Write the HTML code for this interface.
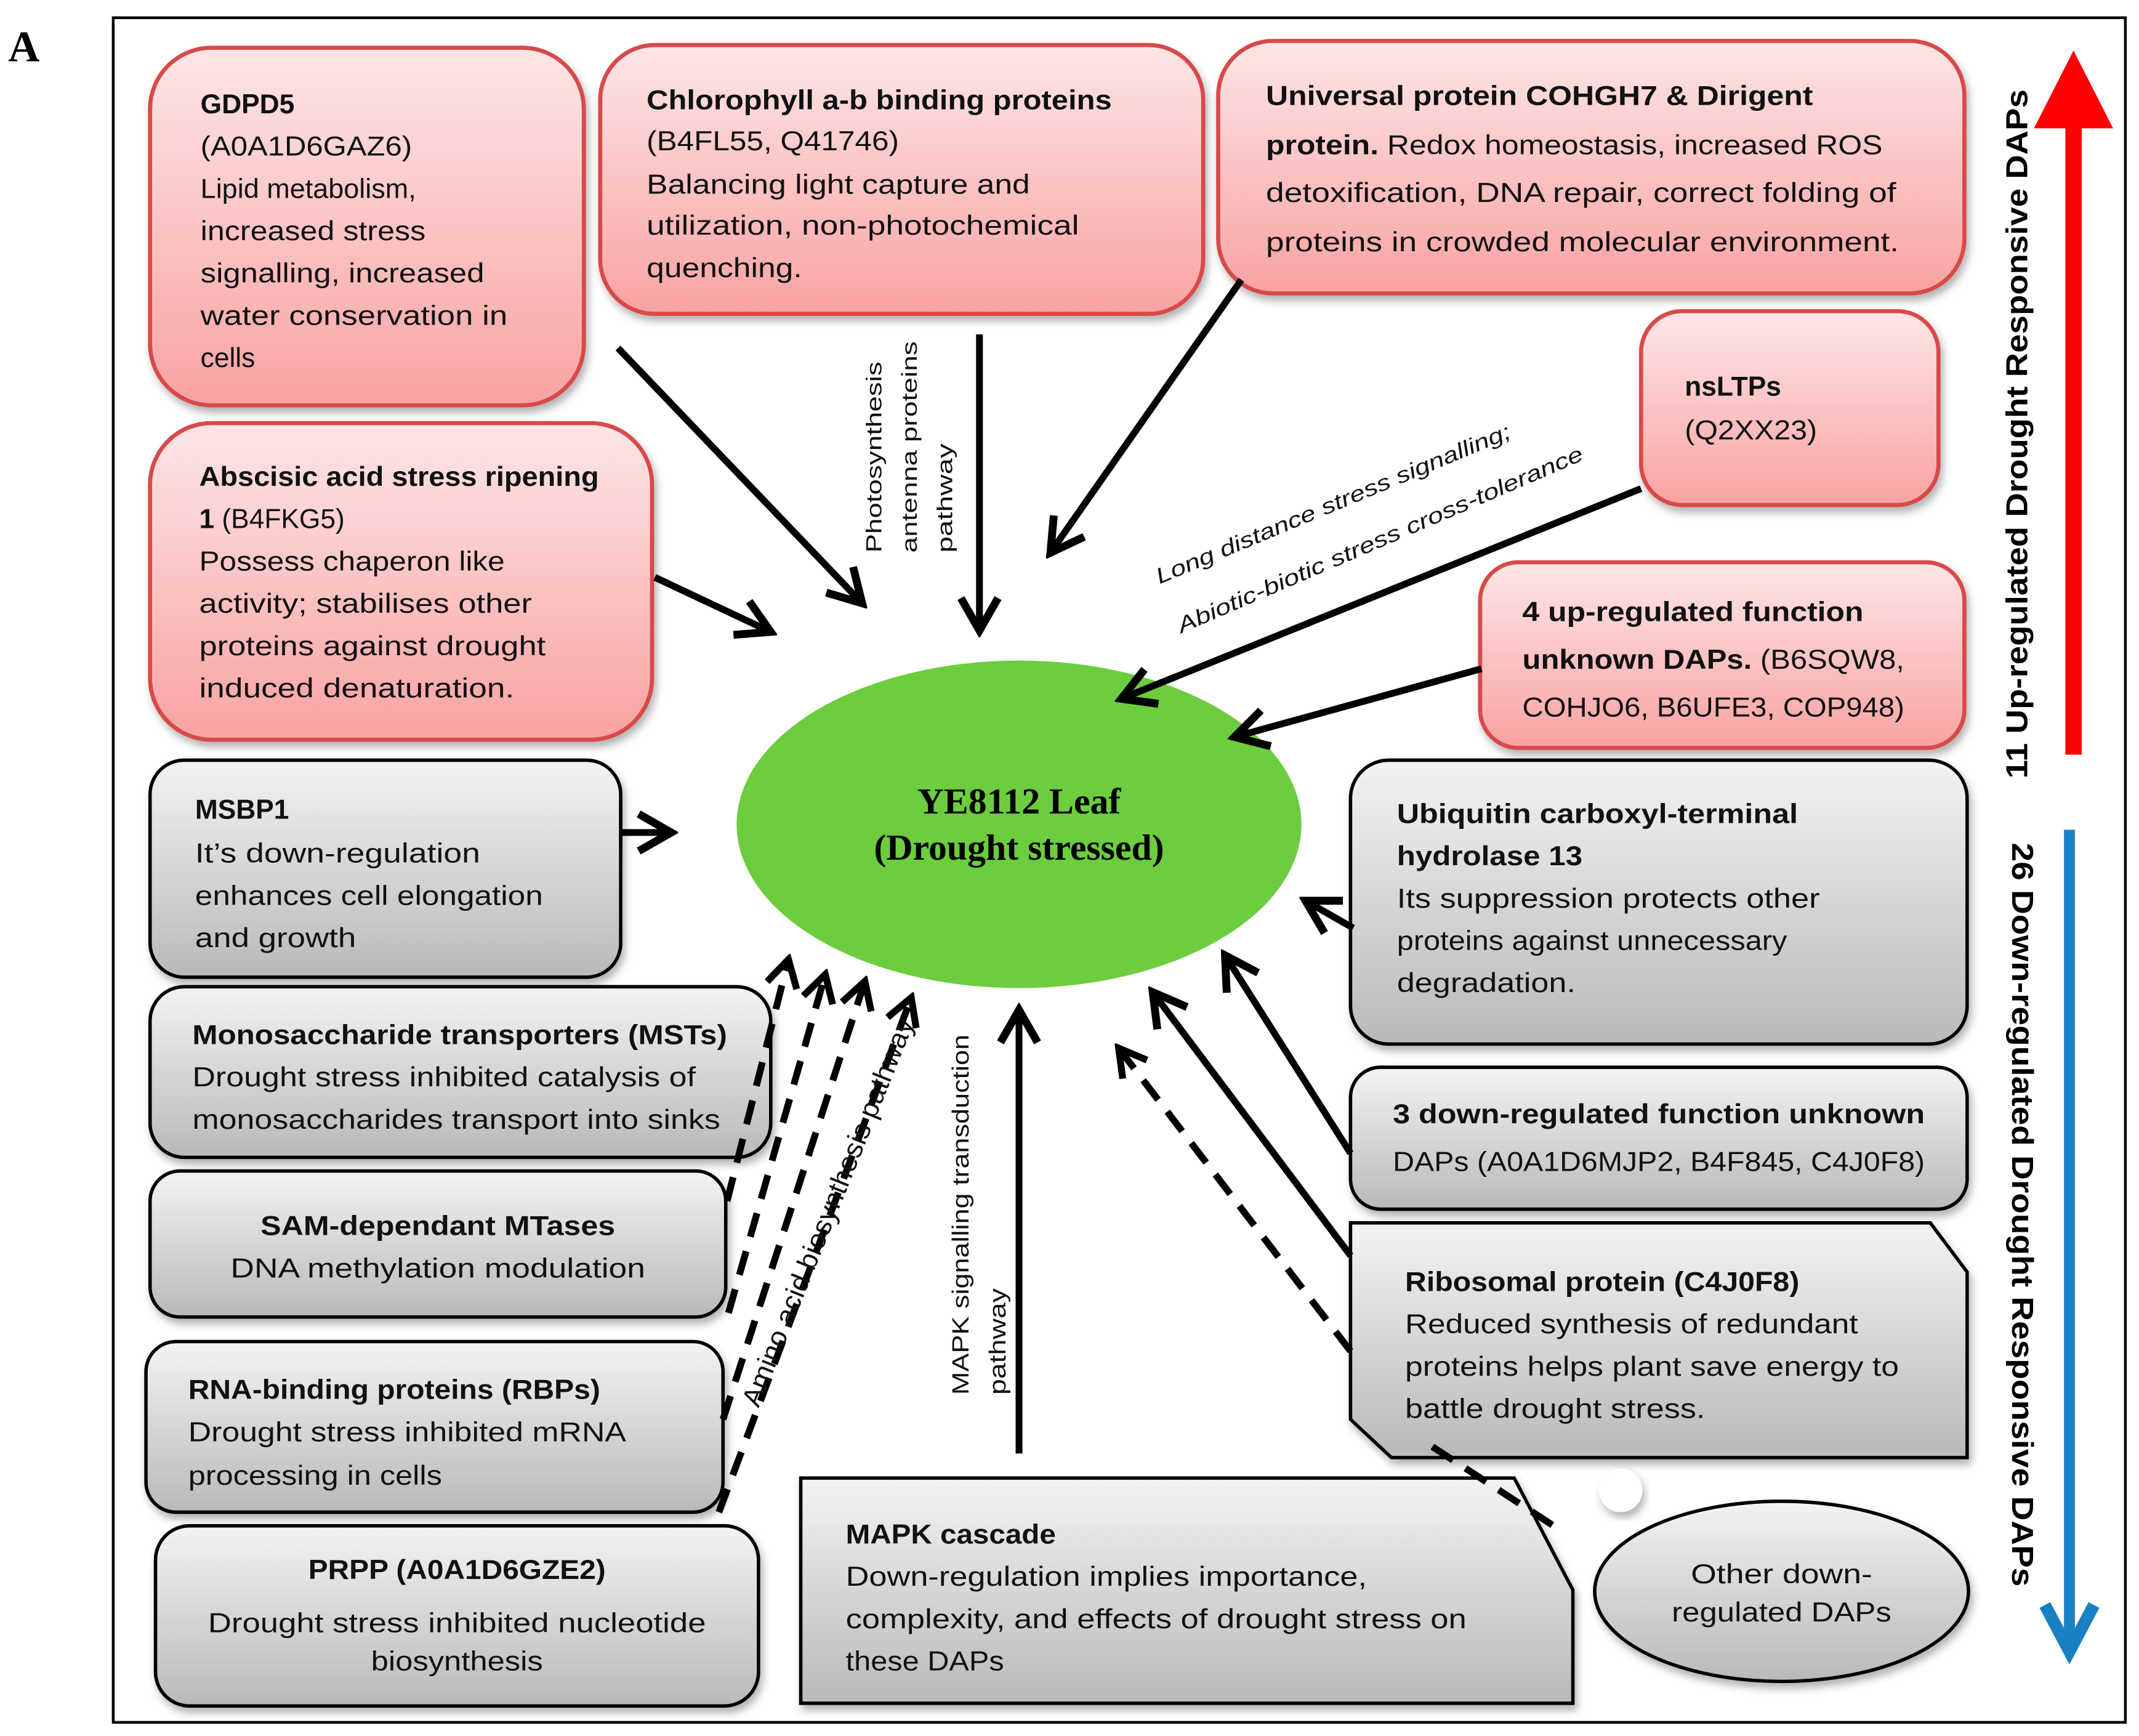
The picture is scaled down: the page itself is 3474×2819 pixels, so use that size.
<!DOCTYPE html>
<html><head><meta charset="utf-8"><style>
html,body{margin:0;padding:0;background:#fff;}
svg{display:block;}
text{font-family:"Liberation Sans",sans-serif;}
.t{font-size:20px;fill:#111;}
.b{font-weight:bold;}
.s{font-size:16px;fill:#111;}
</style></head><body>
<svg width="3474" height="2819" viewBox="0 0 1568 1272" preserveAspectRatio="none" xmlns="http://www.w3.org/2000/svg">
<defs>
<linearGradient id="pk" x1="0" y1="0" x2="0" y2="1"><stop offset="0" stop-color="#fde6e6"/><stop offset="1" stop-color="#f9a2a2"/></linearGradient>
<linearGradient id="gr" x1="0" y1="0" x2="0" y2="1"><stop offset="0" stop-color="#f3f3f3"/><stop offset="1" stop-color="#b9b9b9"/></linearGradient>
<filter id="sh" x="-10%" y="-10%" width="125%" height="130%"><feDropShadow dx="2" dy="4" stdDeviation="3" flood-color="#000" flood-opacity="0.3"/></filter>
<marker id="h" viewBox="0 0 20 20" refX="17" refY="10" markerWidth="34" markerHeight="34" markerUnits="userSpaceOnUse" orient="auto"><path d="M3,2 L17,10 L3,18" fill="none" stroke="#000" stroke-width="3.4" stroke-linejoin="miter"/></marker>
<marker id="hd" viewBox="0 0 20 20" refX="17" refY="10" markerWidth="28" markerHeight="28" markerUnits="userSpaceOnUse" orient="auto"><path d="M3,2 L17,10 L3,18" fill="none" stroke="#000" stroke-width="3.6"/></marker>
</defs>

<text x="6" y="45" style="font-family:'Liberation Serif',serif;font-size:32px;font-weight:bold">A</text>
<rect x="83" y="13" width="1475" height="1249" fill="none" stroke="#000" stroke-width="2"/>

<g stroke="#d94a4a" stroke-width="3" fill="url(#pk)" filter="url(#sh)">
<rect x="110" y="35" width="318" height="262" rx="45"/>
<rect x="440" y="33" width="442" height="197" rx="40"/>
<rect x="893" y="30" width="547" height="185" rx="40"/>
<rect x="1203" y="228" width="218" height="142" rx="30"/>
<rect x="110" y="310" width="368" height="232" rx="45"/>
<rect x="1085" y="412" width="355" height="136" rx="28"/>
</g>
<g stroke="#000" stroke-width="2.5" fill="url(#gr)" filter="url(#sh)">
<rect x="110" y="557" width="345" height="159" rx="25"/>
<rect x="110" y="723" width="455" height="125" rx="25"/>
<rect x="110" y="858" width="422" height="107" rx="22"/>
<rect x="107" y="983" width="423" height="125" rx="22"/>
<rect x="114" y="1118" width="442" height="132" rx="25"/>
<rect x="990" y="557" width="452" height="208" rx="28"/>
<rect x="990" y="782" width="452" height="104" rx="22"/>
<polygon points="990,896 1415,896 1442,932 1442,1068 1020,1068 990,1040"/>
<polygon points="587,1083 1110,1083 1153,1165 1153,1248 587,1248"/>
<ellipse cx="1306" cy="1166" rx="137" ry="66"/>
</g>
<circle cx="1188" cy="1092" r="16" fill="#fff" filter="url(#sh)"/>

<ellipse cx="747" cy="604" rx="207" ry="120" fill="#6ccd3e"/>
<text x="747" y="596" text-anchor="middle" style="font-family:'Liberation Serif',serif;font-size:27px;font-weight:bold">YE8112 Leaf</text>
<text x="747" y="630" text-anchor="middle" style="font-family:'Liberation Serif',serif;font-size:27px;font-weight:bold">(Drought stressed)</text>

<g stroke="#000" stroke-width="5" fill="none" marker-end="url(#h)">
<line x1="453" y1="255" x2="632" y2="442"/>
<line x1="718" y1="245" x2="718" y2="462"/>
<line x1="910" y1="205" x2="770" y2="405"/>
<line x1="480" y1="423" x2="565" y2="463"/>
<line x1="1203" y1="358" x2="822" y2="512"/>
<line x1="1086" y1="490" x2="905" y2="540"/>
<line x1="455" y1="610" x2="492" y2="610"/>
<line x1="992" y1="680" x2="957" y2="660"/>
<line x1="990" y1="845" x2="898" y2="700"/>
<line x1="990" y1="920" x2="845" y2="727"/>
<line x1="747" y1="1065" x2="747" y2="740"/>
</g>
<g stroke="#000" stroke-width="5" fill="none" stroke-dasharray="18 11">
<line x1="533" y1="880" x2="578" y2="703" marker-end="url(#hd)"/>
<line x1="534" y1="962" x2="605" y2="714" marker-end="url(#hd)"/>
<line x1="530" y1="1040" x2="634" y2="719" marker-end="url(#hd)"/>
<line x1="527" y1="1108" x2="668" y2="731" marker-end="url(#hd)"/>
<line x1="990" y1="990" x2="820" y2="768" marker-end="url(#hd)"/>
<line x1="1050" y1="1060" x2="1145" y2="1122"/>
</g>

<line x1="1520" y1="553" x2="1520" y2="90" stroke="#ff0000" stroke-width="12"/>
<polygon points="1491,94 1520,37 1549,94" fill="#ff0000"/>
<line x1="1517" y1="608" x2="1517" y2="1205" stroke="#1a80c4" stroke-width="8"/>
<polyline points="1499,1176 1517,1210 1535,1176" fill="none" stroke="#1a80c4" stroke-width="9"/>
<text transform="translate(1486,318) rotate(-90)" text-anchor="middle" class="b" style="font-size:22px" textLength="505" lengthAdjust="spacingAndGlyphs">11 Up-regulated Drought Responsive DAPs</text>
<text transform="translate(1475,890) rotate(90)" text-anchor="middle" class="b" style="font-size:22px" textLength="545" lengthAdjust="spacingAndGlyphs">26 Down-regulated Drought Responsive DAPs</text>

<text class="s" transform="translate(646,405) rotate(-90)" textLength="140" lengthAdjust="spacingAndGlyphs">Photosynthesis</text>
<text class="s" transform="translate(672,405) rotate(-90)" textLength="155" lengthAdjust="spacingAndGlyphs">antenna proteins</text>
<text class="s" transform="translate(698,405) rotate(-90)" textLength="80" lengthAdjust="spacingAndGlyphs">pathway</text>
<text class="s" style="font-style:italic" transform="translate(850,428) rotate(-22.6)" textLength="280" lengthAdjust="spacingAndGlyphs">Long distance stress signalling;</text>
<text class="s" style="font-style:italic" transform="translate(866,464) rotate(-23.3)" textLength="322" lengthAdjust="spacingAndGlyphs">Abiotic-biotic stress cross-tolerance</text>
<text class="s" style="font-size:20px" transform="translate(556,1032) rotate(-68)" textLength="305" lengthAdjust="spacingAndGlyphs">Amino acid biosynthesis pathway</text>
<text class="s" style="font-size:17px" transform="translate(710,1022) rotate(-90)" textLength="264" lengthAdjust="spacingAndGlyphs">MAPK signalling transduction</text>
<text class="s" style="font-size:17px" transform="translate(737,1022) rotate(-90)" textLength="78" lengthAdjust="spacingAndGlyphs">pathway</text>

<g class="t">
<text x="147" y="83" class="b">GDPD5</text>
<text x="147" y="114" textLength="155" lengthAdjust="spacingAndGlyphs">(A0A1D6GAZ6)</text>
<text x="147" y="145" textLength="158" lengthAdjust="spacingAndGlyphs">Lipid metabolism,</text>
<text x="147" y="176" textLength="165" lengthAdjust="spacingAndGlyphs">increased stress</text>
<text x="147" y="207" textLength="208" lengthAdjust="spacingAndGlyphs">signalling, increased</text>
<text x="147" y="238" textLength="225" lengthAdjust="spacingAndGlyphs">water conservation in</text>
<text x="147" y="269">cells</text>

<text x="474" y="80" class="b" textLength="341" lengthAdjust="spacingAndGlyphs">Chlorophyll a-b binding proteins</text>
<text x="474" y="110" textLength="185" lengthAdjust="spacingAndGlyphs">(B4FL55, Q41746)</text>
<text x="474" y="142" textLength="281" lengthAdjust="spacingAndGlyphs">Balancing light capture and</text>
<text x="474" y="172" textLength="317" lengthAdjust="spacingAndGlyphs">utilization, non-photochemical</text>
<text x="474" y="203" textLength="114" lengthAdjust="spacingAndGlyphs">quenching.</text>

<text x="928" y="77" class="b" textLength="401" lengthAdjust="spacingAndGlyphs">Universal protein COHGH7 &amp;  Dirigent</text>
<text x="928" y="113" textLength="452" lengthAdjust="spacingAndGlyphs"><tspan class="b">protein.</tspan> Redox homeostasis, increased ROS</text>
<text x="928" y="148" textLength="462" lengthAdjust="spacingAndGlyphs">detoxification, DNA repair, correct folding of</text>
<text x="928" y="184" textLength="464" lengthAdjust="spacingAndGlyphs">proteins in crowded molecular environment.</text>

<text x="1235" y="290" class="b">nsLTPs</text>
<text x="1235" y="322" textLength="97" lengthAdjust="spacingAndGlyphs">(Q2XX23)</text>

<text x="146" y="356" class="b" textLength="293" lengthAdjust="spacingAndGlyphs">Abscisic acid stress ripening</text>
<text x="146" y="387"><tspan class="b">1</tspan> (B4FKG5)</text>
<text x="146" y="418" textLength="224" lengthAdjust="spacingAndGlyphs">Possess chaperon like</text>
<text x="146" y="449" textLength="244" lengthAdjust="spacingAndGlyphs">activity; stabilises other</text>
<text x="146" y="480" textLength="254" lengthAdjust="spacingAndGlyphs">proteins against drought</text>
<text x="146" y="511" textLength="231" lengthAdjust="spacingAndGlyphs">induced denaturation.</text>

<text x="1116" y="455" class="b" textLength="250" lengthAdjust="spacingAndGlyphs">4 up-regulated function</text>
<text x="1116" y="490" textLength="280" lengthAdjust="spacingAndGlyphs"><tspan class="b">unknown DAPs.</tspan> (B6SQW8,</text>
<text x="1116" y="525" textLength="280" lengthAdjust="spacingAndGlyphs">COHJO6, B6UFE3, COP948)</text>
</g>

<g class="t">
<text x="143" y="600" class="b">MSBP1</text>
<text x="143" y="632" textLength="209" lengthAdjust="spacingAndGlyphs">It’s down-regulation</text>
<text x="143" y="663" textLength="255" lengthAdjust="spacingAndGlyphs">enhances cell elongation</text>
<text x="143" y="694" textLength="118" lengthAdjust="spacingAndGlyphs">and growth</text>

<text x="141" y="765" class="b" textLength="392" lengthAdjust="spacingAndGlyphs">Monosaccharide transporters (MSTs)</text>
<text x="141" y="796" textLength="369" lengthAdjust="spacingAndGlyphs">Drought stress inhibited catalysis of</text>
<text x="141" y="827" textLength="387" lengthAdjust="spacingAndGlyphs">monosaccharides transport into sinks</text>

<text x="321" y="905" class="b" text-anchor="middle" textLength="260" lengthAdjust="spacingAndGlyphs">SAM-dependant MTases</text>
<text x="321" y="936" text-anchor="middle" textLength="304" lengthAdjust="spacingAndGlyphs">DNA methylation modulation</text>

<text x="138" y="1025" class="b" textLength="302" lengthAdjust="spacingAndGlyphs">RNA-binding proteins (RBPs)</text>
<text x="138" y="1056" textLength="321" lengthAdjust="spacingAndGlyphs">Drought stress inhibited mRNA</text>
<text x="138" y="1088" textLength="186" lengthAdjust="spacingAndGlyphs">processing in cells</text>

<text x="335" y="1157" class="b" text-anchor="middle" textLength="218" lengthAdjust="spacingAndGlyphs">PRPP (A0A1D6GZE2)</text>
<text x="335" y="1196" text-anchor="middle" textLength="365" lengthAdjust="spacingAndGlyphs">Drought stress inhibited nucleotide</text>
<text x="335" y="1224" text-anchor="middle" textLength="126" lengthAdjust="spacingAndGlyphs">biosynthesis</text>

<text x="1024" y="603" class="b" textLength="294" lengthAdjust="spacingAndGlyphs">Ubiquitin carboxyl-terminal</text>
<text x="1024" y="634" class="b" textLength="136" lengthAdjust="spacingAndGlyphs">hydrolase 13</text>
<text x="1024" y="665" textLength="310" lengthAdjust="spacingAndGlyphs">Its suppression protects other</text>
<text x="1024" y="696" textLength="286" lengthAdjust="spacingAndGlyphs">proteins against unnecessary</text>
<text x="1024" y="727" textLength="131" lengthAdjust="spacingAndGlyphs">degradation.</text>

<text x="1021" y="823" class="b" textLength="390" lengthAdjust="spacingAndGlyphs">3 down-regulated function unknown</text>
<text x="1021" y="858" textLength="390" lengthAdjust="spacingAndGlyphs">DAPs (A0A1D6MJP2, B4F845, C4J0F8)</text>

<text x="1030" y="946" class="b" textLength="289" lengthAdjust="spacingAndGlyphs">Ribosomal protein (C4J0F8)</text>
<text x="1030" y="977" textLength="332" lengthAdjust="spacingAndGlyphs">Reduced synthesis of redundant</text>
<text x="1030" y="1008" textLength="362" lengthAdjust="spacingAndGlyphs">proteins helps plant save energy to</text>
<text x="1030" y="1039" textLength="220" lengthAdjust="spacingAndGlyphs">battle drought stress.</text>

<text x="620" y="1131" class="b" textLength="154" lengthAdjust="spacingAndGlyphs">MAPK cascade</text>
<text x="620" y="1162" textLength="382" lengthAdjust="spacingAndGlyphs">Down-regulation implies importance,</text>
<text x="620" y="1193" textLength="455" lengthAdjust="spacingAndGlyphs">complexity, and effects of drought stress on</text>
<text x="620" y="1224" textLength="116" lengthAdjust="spacingAndGlyphs">these DAPs</text>

<text x="1306" y="1160" text-anchor="middle" textLength="133" lengthAdjust="spacingAndGlyphs">Other down-</text>
<text x="1306" y="1188" text-anchor="middle" textLength="161" lengthAdjust="spacingAndGlyphs">regulated DAPs</text>
</g>
</svg>
</body></html>
